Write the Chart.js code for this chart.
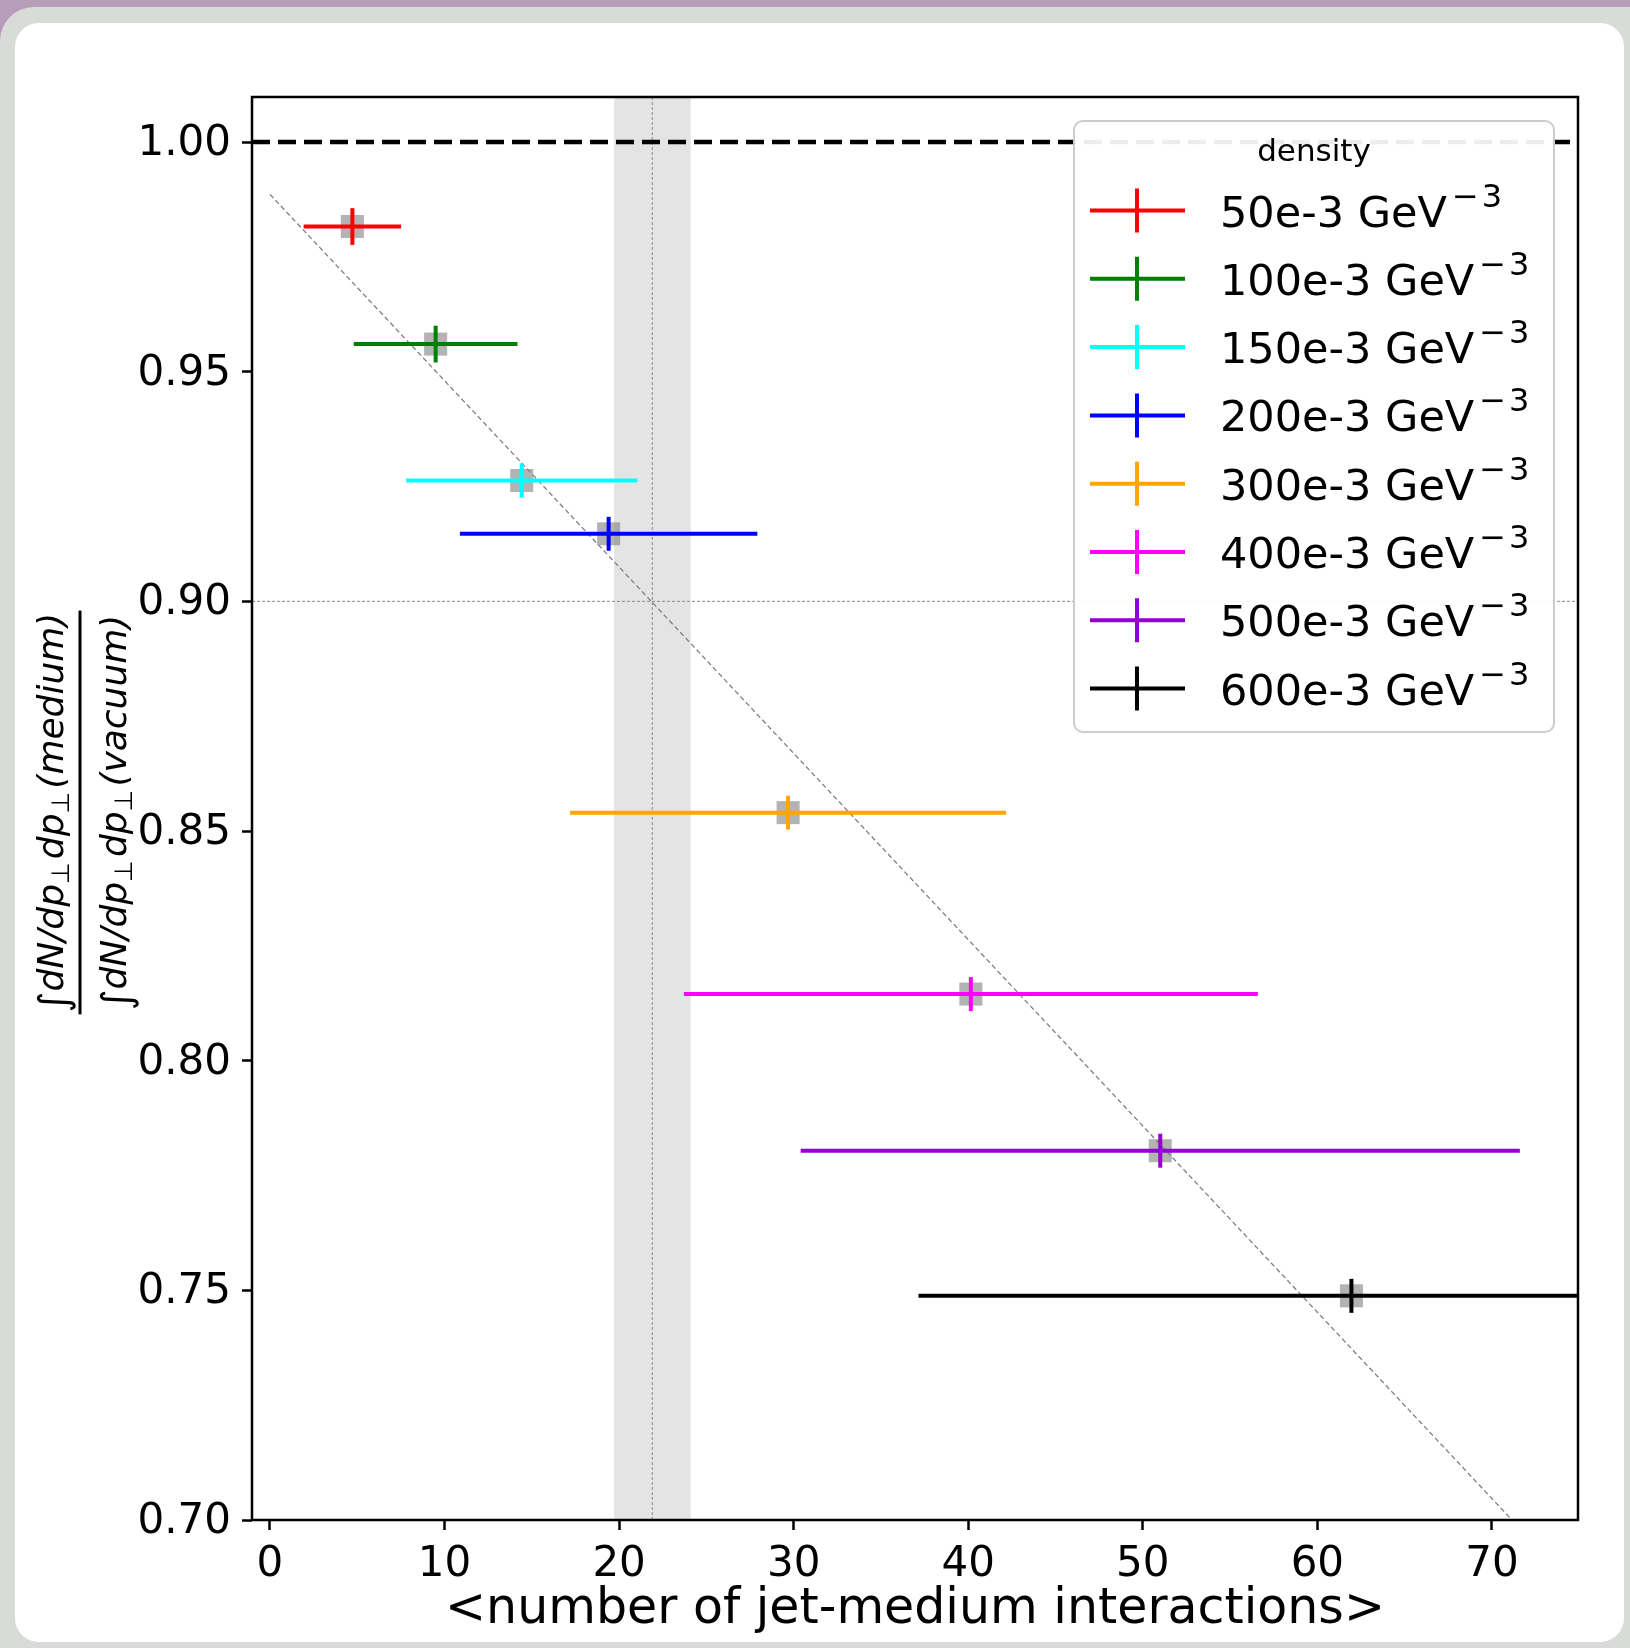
<!DOCTYPE html>
<html><head><meta charset="utf-8">
<script src="https://cdn.jsdelivr.net/npm/chart.js@4.4.1/dist/chart.umd.min.js"></script>
<style>
html,body{margin:0;padding:0;width:1630px;height:1648px;overflow:hidden;background:#b89cb8;}
#outer{position:absolute;left:0;top:7px;width:1680px;height:1700px;background:#d9dbd9;border-radius:34px;}
#inner{position:absolute;left:15px;top:23px;width:1609px;height:1619px;background:#fff;border-radius:24px;}
canvas{position:absolute;left:0;top:0;}
</style></head><body>
<div id="outer"></div><div id="inner"></div>
<canvas id="c" width="1630" height="1648"></canvas>
<script>
// ---- data ----
const densityLabels = ['50e-3', '100e-3', '150e-3', '200e-3', '300e-3', '400e-3', '500e-3', '600e-3'];
const seriesColors = ['#ff0000', '#008000', '#00ffff', '#0000ff', '#ffa500', '#ff00ff', '#9400d3', '#000000'];
const xValues = [4.72, 9.49, 14.42, 19.40, 29.68, 40.15, 51.00, 61.95];
const xErrors = [2.79, 4.69, 6.62, 8.52, 12.49, 16.44, 20.60, 24.80];
const yValues = [0.9816, 0.9560, 0.9263, 0.9147, 0.8540, 0.8145, 0.7804, 0.7488];
const yErrors = [0.0040, 0.0040, 0.0037, 0.0037, 0.0037, 0.0037, 0.0037, 0.0037];
const xTicks = [0, 10, 20, 30, 40, 50, 60, 70];
const yTicks = [0.70, 0.75, 0.80, 0.85, 0.90, 0.95, 1.00];
const fitX = [0, 71.15];
const fitY = [0.9886, 0.70];
const unityY = 1.0;
const refX = 21.9;
const refY = 0.90;
const bandRange = [19.71, 24.10];
const xRange = [-1.03, 74.93];
const yRange = [0.70, 1.0098];

const FONT = 'DejaVu Sans';

// ---- datasets ----
const datasets = [];
datasets.push({
  label: 'markers',
  data: xValues.map((x, i) => ({x: x, y: yValues[i]})),
  pointStyle: 'rect', pointRadius: 16.3, pointHoverRadius: 16.3,
  backgroundColor: 'rgba(128,128,128,0.6)', borderWidth: 0, showLine: false, order: 5
});
xValues.forEach((x, i) => {
  datasets.push({
    label: densityLabels[i] + ' h',
    data: [{x: x - xErrors[i], y: yValues[i]}, {x: x + xErrors[i], y: yValues[i]}],
    showLine: true, borderColor: seriesColors[i], borderWidth: 4, pointRadius: 0, order: 1, clip: 0,
    borderCapStyle: 'butt'
  });
  datasets.push({
    label: densityLabels[i] + ' v',
    data: [{x: x, y: yValues[i] - yErrors[i]}, {x: x, y: yValues[i] + yErrors[i]}],
    showLine: true, borderColor: seriesColors[i], borderWidth: 4, pointRadius: 0, order: 1, clip: 0,
    borderCapStyle: 'butt'
  });
});
datasets.push({
  label: 'unity',
  data: [{x: xRange[0], y: unityY}, {x: xRange[1], y: unityY}],
  showLine: true, borderColor: '#000', borderWidth: 4.5, borderDash: [18, 8], pointRadius: 0, order: 2, clip: 0
});
datasets.push({
  label: 'fit',
  data: fitX.map((x, i) => ({x: x, y: fitY[i]})),
  showLine: true, borderColor: '#808080', borderWidth: 1.3, borderDash: [5, 3], pointRadius: 0, order: 3, clip: 0
});
datasets.push({
  label: 'refY',
  data: [{x: xRange[0], y: refY}, {x: xRange[1], y: refY}],
  showLine: true, borderColor: '#8a8a8a', borderWidth: 1, borderDash: [3, 2], pointRadius: 0, order: 4, clip: 0
});
datasets.push({
  label: 'refX',
  data: [{x: refX, y: yRange[0]}, {x: refX, y: yRange[1]}],
  showLine: true, borderColor: '#8a8a8a', borderWidth: 1, borderDash: [3, 2], pointRadius: 0, order: 4, clip: 0
});

// ---- plugins ----
const bandPlugin = {
  id: 'band',
  beforeDatasetsDraw(chart) {
    const {ctx, chartArea, scales} = chart;
    const x0 = scales.x.getPixelForValue(bandRange[0]);
    const x1 = scales.x.getPixelForValue(bandRange[1]);
    ctx.save();
    ctx.fillStyle = 'rgba(128,128,128,0.21)';
    ctx.fillRect(x0, chartArea.top, x1 - x0, chartArea.bottom - chartArea.top);
    ctx.restore();
  }
};

function drawRuns(ctx, runs, x, y) {
  let total = 0;
  runs.forEach(r => { ctx.font = r.font; r.w = ctx.measureText(r.t).width; total += r.w + (r.gap || 0); });
  let cx = x - total / 2;
  runs.forEach(r => {
    ctx.font = r.font;
    ctx.fillText(r.t, cx, y + (r.dy || 0));
    cx += r.w + (r.gap || 0);
  });
  return total;
}

const decorPlugin = {
  id: 'decor',
  afterDraw(chart) {
    const {ctx, chartArea} = chart;
    const L = chartArea.left, T = chartArea.top, R = chartArea.right, B = chartArea.bottom;
    ctx.save();
    // spines
    ctx.strokeStyle = '#000';
    ctx.lineWidth = 2.5;
    ctx.strokeRect(L, T, R - L, B - T);

    // legend
    const lx = 1074, ly = 121, lw = 480, lh = 611;
    ctx.beginPath();
    ctx.roundRect(lx, ly, lw, lh, 9);
    ctx.fillStyle = 'rgba(255,255,255,0.93)';
    ctx.fill();
    ctx.strokeStyle = '#cccccc';
    ctx.lineWidth = 2;
    ctx.stroke();
    ctx.fillStyle = '#000';
    ctx.textAlign = 'center';
    ctx.textBaseline = 'middle';
    ctx.font = '31px ' + FONT;
    ctx.fillText('density', lx + lw / 2, 153);
    ctx.textAlign = 'left';
    ctx.textBaseline = 'alphabetic';
    densityLabels.forEach((lab, i) => {
      const y = 210.5 + i * 68.3;
      ctx.strokeStyle = seriesColors[i];
      ctx.lineWidth = 4;
      ctx.beginPath();
      ctx.moveTo(1090, y); ctx.lineTo(1185, y);
      ctx.moveTo(1137, y - 22); ctx.lineTo(1137, y + 22);
      ctx.stroke();
      ctx.fillStyle = '#000';
      ctx.font = '43px ' + FONT;
      const base = y + 16;
      const t = lab + ' GeV';
      ctx.fillText(t, 1220, base);
      const w = ctx.measureText(t).width;
      ctx.font = '32px ' + FONT;
      ctx.fillText('\u2212', 1220 + w + 5, base - 20);
      const wm = ctx.measureText('\u2212').width;
      ctx.fillText('3', 1220 + w + 5 + wm + 3, base - 20);
    });

    // y-axis label (fraction)
    ctx.translate(80, (T + B) / 2 + 4);
    ctx.rotate(-Math.PI / 2);
    ctx.fillStyle = '#000';
    ctx.textAlign = 'left';
    ctx.textBaseline = 'alphabetic';
    const it = 'italic 36px ' + FONT, up = '40px ' + FONT, sb = '25px ' + FONT;
    const num = [
      {t: '\u222B', font: up, dy: 4},
      {t: 'dN/dp', font: it},
      {t: '\u22A5', font: sb, dy: 6, gap: 3},
      {t: 'dp', font: it},
      {t: '\u22A5', font: sb, dy: 6, gap: 3},
      {t: '(medium)', font: it}
    ];
    const den = [
      {t: '\u222B', font: up, dy: 4},
      {t: 'dN/dp', font: it},
      {t: '\u22A5', font: sb, dy: 6, gap: 3},
      {t: 'dp', font: it},
      {t: '\u22A5', font: sb, dy: 6, gap: 3},
      {t: '(vacuum)', font: it}
    ];
    const w1 = drawRuns(ctx, num, 0, -17);
    const w2 = drawRuns(ctx, den, 0, 46);
    ctx.fillRect(-Math.max(w1, w2) / 2 - 2, -1.5, Math.max(w1, w2) + 4, 3);
    ctx.restore();
  }
};

new Chart(document.getElementById('c'), {
  type: 'scatter',
  data: {datasets: datasets},
  options: {
    responsive: false,
    animation: false,
    devicePixelRatio: 1,
    events: [],
    layout: {padding: {left: 132, top: 97, right: 52, bottom: 0}},
    plugins: {legend: {display: false}, tooltip: {enabled: false}},
    scales: {
      x: {
        type: 'linear', min: xRange[0], max: xRange[1],
        afterBuildTicks: s => { s.ticks = xTicks.map(v => ({value: v})); },
        afterFit: s => { s.height = 128; },
        ticks: {color: '#000', font: {family: FONT, size: 42}, padding: 10, maxRotation: 0, autoSkip: false,
                callback: v => String(v)},
        grid: {display: true, drawOnChartArea: false, drawTicks: true, tickLength: 10, tickWidth: 2.5, tickColor: '#000'},
        border: {display: false},
        title: {display: true, text: '<number of jet-medium interactions>', color: '#000',
                font: {family: FONT, size: 49, lineHeight: 1.2}, padding: {top: 0, bottom: 8}}
      },
      y: {
        type: 'linear', min: yRange[0], max: yRange[1],
        afterBuildTicks: s => { s.ticks = yTicks.map(v => ({value: v})); },
        afterFit: s => { s.width = 120; },
        ticks: {color: '#000', font: {family: FONT, size: 42}, padding: 11, autoSkip: false, labelOffset: 2,
                callback: v => v.toFixed(2)},
        grid: {display: true, drawOnChartArea: false, drawTicks: true, tickLength: 10, tickWidth: 2.5, tickColor: '#000'},
        border: {display: false}
      }
    }
  },
  plugins: [bandPlugin, decorPlugin]
});
</script>
</body></html>
